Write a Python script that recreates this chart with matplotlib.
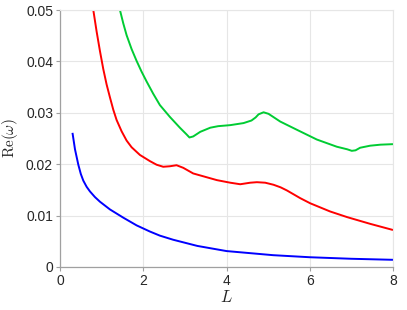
import matplotlib
matplotlib.use("Agg")
import matplotlib.pyplot as plt

blue_L = [0.30, 0.36, 0.44, 0.50, 0.56, 0.64, 0.72, 0.84, 0.96, 1.20, 1.52, 1.84, 2.16, 2.40, 2.72, 3.30, 4.00, 5.12, 6.00, 7.00, 8.00]
blue_y = [0.0261, 0.0229, 0.0199, 0.0181, 0.0168, 0.0156, 0.0147, 0.0136, 0.0127, 0.0112, 0.0096, 0.0081, 0.0069, 0.0061, 0.0053, 0.0041, 0.0031, 0.0023, 0.0019, 0.0016, 0.0014]

red_L = [0.80, 0.88, 0.96, 1.04, 1.12, 1.20, 1.28, 1.36, 1.48, 1.60, 1.72, 1.92, 2.16, 2.32, 2.48, 2.64, 2.80, 2.96, 3.20, 3.77, 4.09, 4.33, 4.57, 4.73, 4.93, 5.13, 5.30, 5.45, 5.77, 6.01, 6.49, 6.90, 7.45, 8.00]
red_y = [0.0500, 0.0458, 0.0420, 0.0385, 0.0355, 0.0330, 0.0306, 0.0286, 0.0264, 0.0246, 0.0233, 0.0218, 0.0206, 0.0199, 0.0195, 0.0196, 0.0198, 0.0193, 0.0182, 0.0169, 0.0164, 0.0161, 0.0164, 0.0165, 0.0164, 0.0160, 0.0155, 0.0149, 0.0134, 0.0124, 0.0108, 0.0097, 0.0084, 0.0072]

green_L = [1.44, 1.52, 1.60, 1.72, 1.84, 1.96, 2.08, 2.24, 2.40, 2.64, 2.88, 3.04, 3.11, 3.20, 3.37, 3.61, 3.80, 4.09, 4.41, 4.60, 4.70, 4.77, 4.89, 5.01, 5.29, 5.69, 6.17, 6.65, 6.90, 7.01, 7.10, 7.21, 7.45, 7.70, 8.00]
green_y = [0.0500, 0.0474, 0.0451, 0.0424, 0.0401, 0.0380, 0.0361, 0.0337, 0.0315, 0.0292, 0.0271, 0.0258, 0.0252, 0.0254, 0.0263, 0.0271, 0.0274, 0.0276, 0.0280, 0.0285, 0.0291, 0.0297, 0.0301, 0.0298, 0.0283, 0.0267, 0.0248, 0.0234, 0.0229, 0.0226, 0.0227, 0.0232, 0.0236, 0.0238, 0.0239]

x_ticks = [0, 2, 4, 6, 8]
y_ticks = [0, 0.01, 0.02, 0.03, 0.04, 0.05]
y_ticklabels = ["0", "0.01", "0.02", "0.03", "0.04", "0.05"]

plt.rcParams["font.family"] = ["Liberation Sans", "DejaVu Sans"]
plt.rcParams["mathtext.fontset"] = "cm"

fig = plt.figure(figsize=(4.07, 3.10), dpi=100)
ax = fig.add_axes([60/407, 43/310, 333/407, 257/310])

for xs, ys, c in [(blue_L, blue_y, "#0000ff"), (red_L, red_y, "#ff0000"), (green_L, green_y, "#00cc33")]:
    ax.plot(xs, ys, color=c, lw=1.4, solid_joinstyle="round", solid_capstyle="butt")

ax.set_xlim(0, 8)
ax.set_ylim(0, 0.05)
ax.set_xticks(x_ticks)
ax.set_xticklabels([str(t) for t in x_ticks])
ax.set_yticks(y_ticks)
ax.set_yticklabels(y_ticklabels)
ax.grid(True, color="#e6e6e6", lw=0.8)
ax.set_axisbelow(True)
for s in ["top", "right"]:
    ax.spines[s].set_color("#e6e6e6")
    ax.spines[s].set_linewidth(0.8)
for s in ["left", "bottom"]:
    ax.spines[s].set_color("#a0a0a0")
    ax.spines[s].set_linewidth(0.9)
ax.tick_params(direction="out", length=3, width=0.8, color="#a0a0a0",
               labelsize=10, labelcolor="#262626", pad=2)

ax.set_xlabel(r"$L$", fontsize=12, color="#262626", labelpad=1)
ax.set_ylabel(r"$\mathrm{Re}(\omega)$", fontsize=11, color="#262626", labelpad=4)

fig.savefig("out.png", dpi=100)
